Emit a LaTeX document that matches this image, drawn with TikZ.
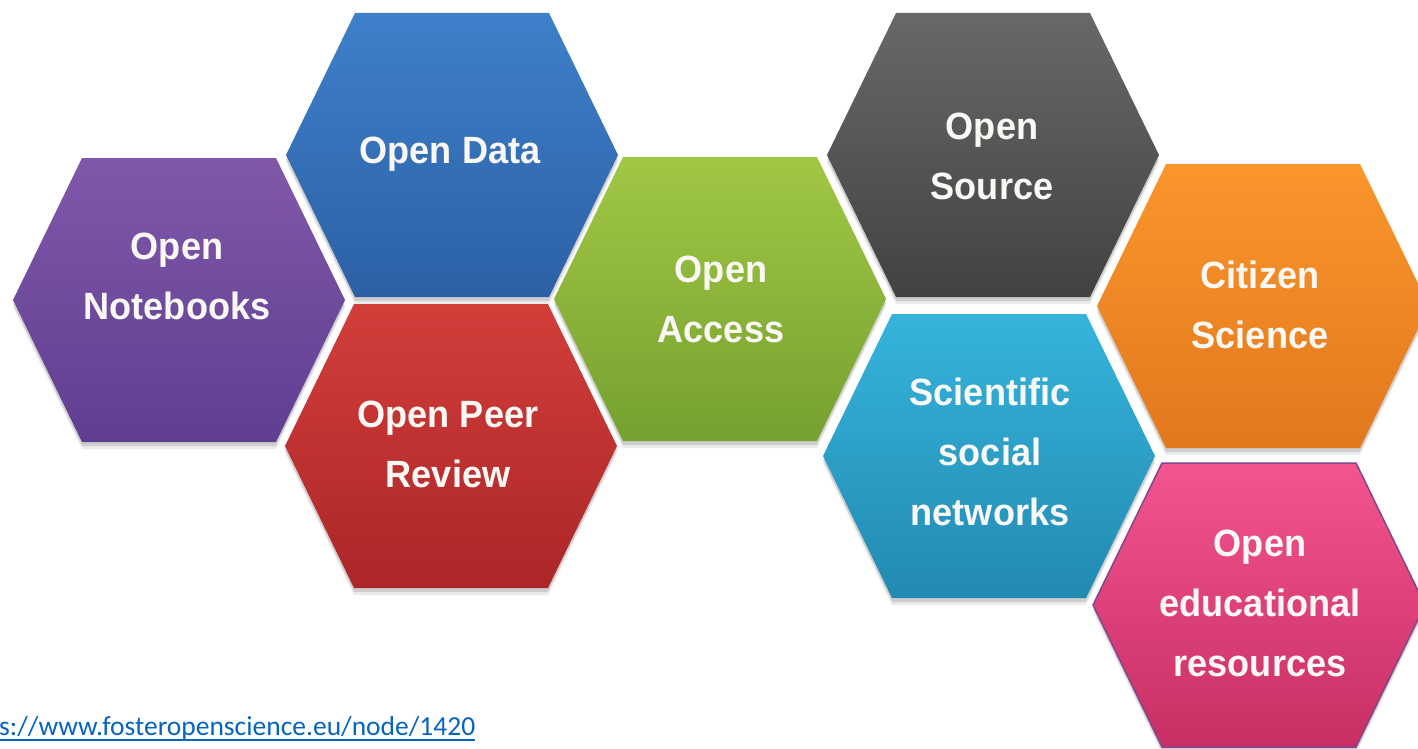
\documentclass[tikz,border=0pt]{standalone}
\usepackage{fontspec}
\setmainfont{Liberation Sans}
\newfontfamily\linkfont{Carlito}
\definecolor{purpT}{RGB}{128,88,170}\definecolor{purpB}{RGB}{95,62,145}
\definecolor{blueT}{RGB}{62,128,202}\definecolor{blueB}{RGB}{44,96,165}
\definecolor{redT}{RGB}{210,62,58}\definecolor{redB}{RGB}{172,38,40}
\definecolor{greenT}{RGB}{160,200,68}\definecolor{greenB}{RGB}{118,160,48}
\definecolor{grayT}{RGB}{104,104,104}\definecolor{grayB}{RGB}{66,66,66}
\definecolor{cyanT}{RGB}{54,180,220}\definecolor{cyanB}{RGB}{34,138,178}
\definecolor{orangeT}{RGB}{250,150,44}\definecolor{orangeB}{RGB}{226,120,30}
\definecolor{pinkT}{RGB}{244,84,144}\definecolor{pinkB}{RGB}{200,46,100}
\definecolor{pinkLine}{RGB}{130,70,140}
\definecolor{linkblue}{RGB}{5,99,193}
\definecolor{labeltext}{RGB}{250,248,245}
\tikzset{
  hexp/.style={insert path={(-166,0) -- (-97,-142) -- (97,-142) -- (166,0) -- (97,142) -- (-97,142) -- cycle}},
  hexlabel/.style={text=labeltext, align=center, font=\bfseries\fontsize{38}{60}\selectfont, inner sep=0pt, xscale=0.95, transform shape},
}
\begin{document}
\begin{tikzpicture}[x=1pt,y=-1pt]
\useasboundingbox (0,0) rectangle (1418,749);
\clip (0,0) rectangle (1418,749);
% soft shadows below the hexagons
\foreach \cx/\cy in {179/300,452/155,451/446,720/299,993/155,989/456,1263/306,1259/605}{
  \path[shift={(\cx,\cy+7)}, fill=black, opacity=0.08, hexp];
  \path[shift={(\cx,\cy+4)}, fill=black, opacity=0.12, hexp];
}
% hexagons
\path[shift={(179,300)}, top color=purpT, bottom color=purpB, hexp];
\path[shift={(452,155)}, top color=blueT, bottom color=blueB, hexp];
\path[shift={(451,446)}, top color=redT, bottom color=redB, hexp];
\path[shift={(720,299)}, top color=greenT, bottom color=greenB, hexp];
\path[shift={(993,155)}, top color=grayT, bottom color=grayB, hexp];
\path[shift={(989,456)}, top color=cyanT, bottom color=cyanB, hexp];
\path[shift={(1263,306)}, top color=orangeT, bottom color=orangeB, hexp];
\path[shift={(1259,605)}, top color=pinkT, bottom color=pinkB, draw=pinkLine, line width=1.5pt, hexp];
% labels
\node[hexlabel] (notebooks) at (177,276) {Open\\Notebooks};
\node[hexlabel] (data) at (450,154) {Open Data};
\node[hexlabel] (peer) at (448,444) {Open Peer\\Review};
\node[hexlabel] (access) at (721,299) {Open\\Access};
\node[hexlabel] (source) at (992,156) {Open\\Source};
\node[hexlabel] (social) at (990,452) {Scientific\\social\\networks};
\node[hexlabel] (citizen) at (1260,305) {Citizen\\Science};
\node[hexlabel] (oer) at (1260,603) {Open\\educational\\resources};
% link
\node[anchor=base west, inner sep=0pt, text=linkblue, font=\linkfont\fontsize{27.5}{30}\selectfont] (link) at (-1,735) {s://www.fosteropenscience.eu/node/1420};
\draw[linkblue, line width=1.5pt] (link.base west) ++(0,5) -- ([yshift=-5pt]link.base east);
\end{tikzpicture}
\end{document}
